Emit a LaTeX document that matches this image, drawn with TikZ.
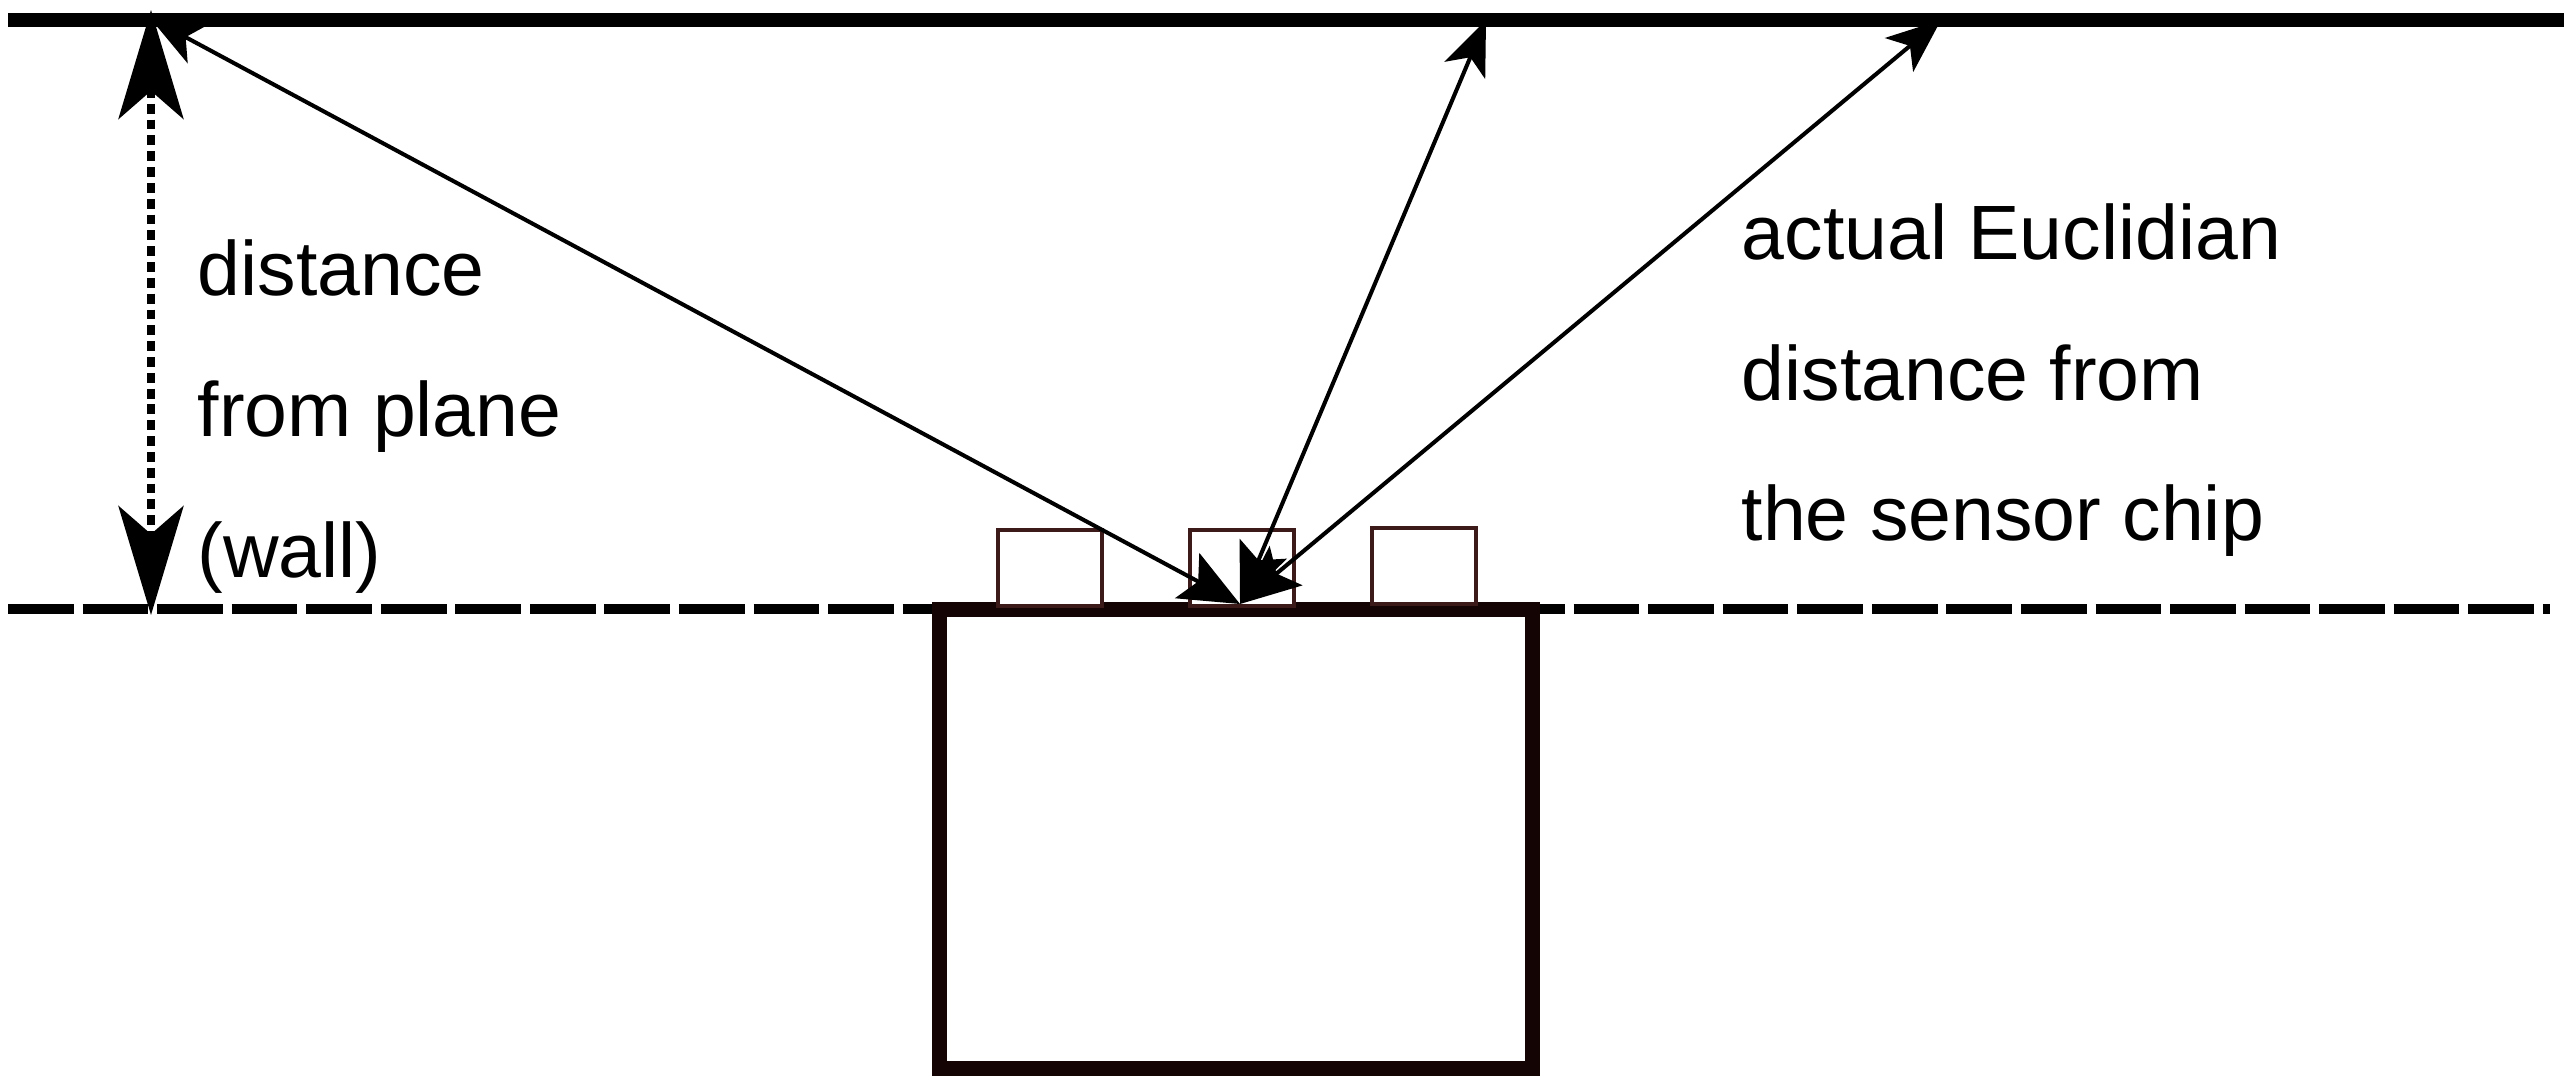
\documentclass[tikz,border=0pt]{standalone}
\usepackage{fontspec}
\setmainfont{Liberation Sans}
\usetikzlibrary{arrows.meta}
\definecolor{boxbrown}{HTML}{140404}
\definecolor{chipbrown}{HTML}{3C1A1A}

\begin{document}
\begin{tikzpicture}[x=0.01cm, y=-0.01cm,
        label/.style={anchor=base west, inner sep=0pt, font=\fontsize{21.9}{26}\selectfont},
        chip/.style={draw=chipbrown, line width=0.9pt, fill=white, minimum width=104*0.2845pt, minimum height=76*0.2845pt, inner sep=0pt},
        ray/.style={line width=1.15pt, {Stealth[length=17pt, width=14.5pt, inset=3.5pt]}-{Stealth[length=15.5pt, width=12.5pt, inset=4pt]}}]
        \useasboundingbox (0,0) rectangle (2564,1088);

        % Wall and sensor plane
        \coordinate (wallL) at (8,20);
        \coordinate (wallR) at (2564,20);
        \coordinate (planeL) at (8,609);
        \coordinate (planeR) at (2550,609);
        \draw[line width=4pt] (wallL) -- (wallR);
        \draw[line width=2.6pt, dash pattern=on 18.7pt off 2.5pt] (planeL) -- (planeR);

        % Nodes
        \node (body) [draw=boxbrown, line width=4.4pt, minimum width=593*0.2845pt, minimum height=459*0.2845pt, inner sep=0pt] at (1236,839) {};
        \node (chipL) [chip] at (1050,568) {};
        \node (chipM) [chip] at (1242,568) {};
        \node (chipR) [chip] at (1424,566) {};

        \node (dist1) [label] at (197,295) {distance};
        \node (dist2) [label] at (197,436) {from plane};
        \node (dist3) [label] at (197,577) {(wall)};
        \node (eucl1) [label] at (1741,259) {actual Euclidian};
        \node (eucl2) [label] at (1741,400) {distance from};
        \node (eucl3) [label] at (1741,540) {the sensor chip};

        \coordinate (sensor) at (1240,604);
        \coordinate (hitL) at (150,18);
        \coordinate (hitM) at (1486,20);
        \coordinate (hitR) at (1941,20);
        \coordinate (distTop) at (151,10);
        \coordinate (distBot) at (151,615);

        % Arrows
        \draw[ray] (sensor) -- (hitL);
        \draw[ray] (sensor) -- (hitM);
        \draw[ray] (sensor) -- (hitR);
        \draw[line width=2pt, dash pattern=on 2.8pt off 1.7pt, {Stealth[length=31pt, width=18.5pt, inset=8pt]}-{Stealth[length=31pt, width=18.5pt, inset=8pt]}] (distTop) -- (distBot);
\end{tikzpicture}
\end{document}
